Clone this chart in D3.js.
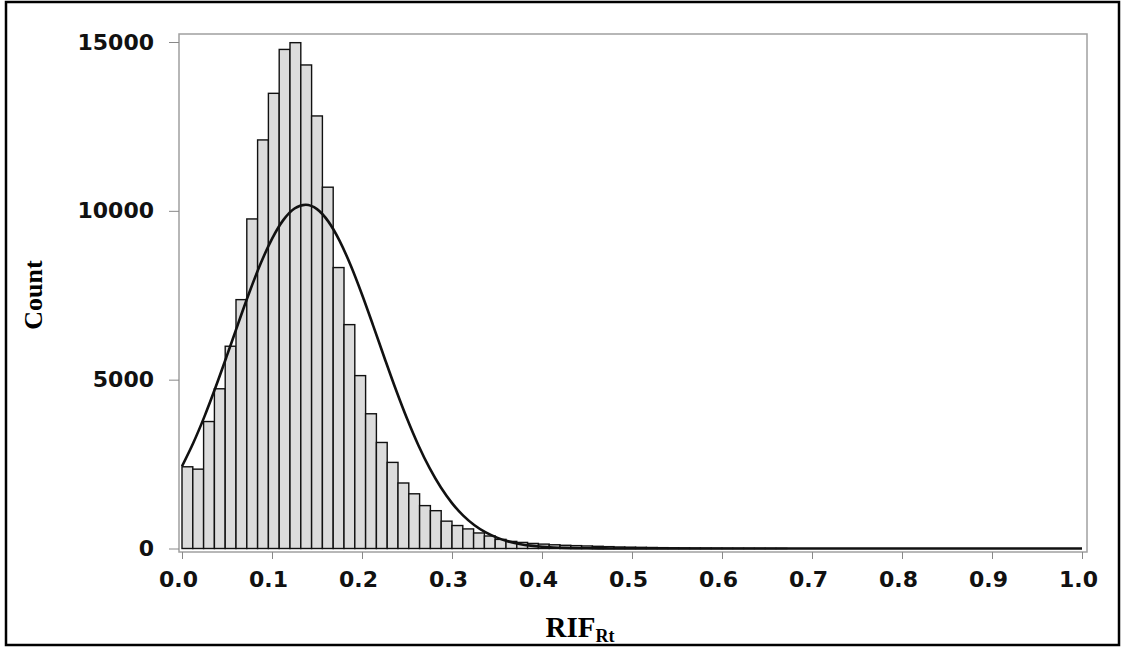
<!DOCTYPE html>
<html>
<head>
<meta charset="utf-8">
<script src="https://cdn.jsdelivr.net/npm/d3@7"></script>
<style>
  body { margin: 0; background: #fff; }
  .tick text { font-family: "DejaVu Sans", sans-serif; font-weight: bold; font-size: 22px; fill: #111; }
  .tick line { stroke: #888; }
</style>
</head>
<body>
<svg id="chart" width="1124" height="648"></svg>
<script>
// histogram bins, width 0.012 starting at 0
var binWidth = 0.012;
var counts = [2420, 2350, 3760, 4730, 5990, 7370, 9760, 12100, 13480, 14780,
  14980, 14320, 12810, 10700, 8320, 6630, 5120, 3990, 3140, 2550,
  1940, 1620, 1270, 1120, 810, 680, 580, 460, 370, 270,
  210, 180, 150, 130, 110, 95, 85, 75, 65, 55,
  45, 40, 35, 30, 25, 20, 16, 12, 10, 8,
  6, 5, 4, 3, 2, 2];

// fitted normal curve, read every 0.0125
var curveX = d3.range(0, 1.0001, 0.0125);
var curveY = [2436, 3124, 3913, 4789, 5718, 6669, 7595, 8446, 9171, 9725,
  10069, 10180, 10050, 9688, 9119, 8381, 7523, 6594, 5643, 4715,
  3847, 3065, 2385, 1812, 1344, 973, 688, 475, 321, 211,
  136, 85, 52, 31, 18, 10, 6, 3, 2, 1,
  0, 0, 0, 0, 0, 0, 0, 0, 0, 0,
  0, 0, 0, 0, 0, 0, 0, 0, 0, 0,
  0, 0, 0, 0, 0, 0, 0, 0, 0, 0,
  0, 0, 0, 0, 0, 0, 0, 0, 0, 0, 0];

var xTicks = [0, 0.1, 0.2, 0.3, 0.4, 0.5, 0.6, 0.7, 0.8, 0.9, 1.0];
var yTicks = [0, 5000, 10000, 15000];

var svg = d3.select("#chart");

var frame = {left: 179, right: 1087, top: 34, bottom: 552};

var x = d3.scaleLinear().domain([0, 1]).range([182, 1082]);
var y = d3.scaleLinear().domain([0, 15000]).range([548.5, 42]);

// outer border
svg.append("rect")
  .attr("x", 6).attr("y", 2)
  .attr("width", 1113).attr("height", 643)
  .attr("fill", "none").attr("stroke", "#000").attr("stroke-width", 2.5);

// plot frame
svg.append("rect")
  .attr("x", frame.left).attr("y", frame.top)
  .attr("width", frame.right - frame.left).attr("height", frame.bottom - frame.top)
  .attr("fill", "none").attr("stroke", "#a0a0a0").attr("stroke-width", 1.5);

// bars
svg.append("g").selectAll("rect")
  .data(counts)
  .enter().append("rect")
  .attr("x", function (d, i) { return x(i * binWidth); })
  .attr("width", function (d, i) { return x((i + 1) * binWidth) - x(i * binWidth); })
  .attr("y", function (d) { return y(d); })
  .attr("height", function (d) { return y(0) - y(d); })
  .attr("fill", "#dcdcdc")
  .attr("stroke", "#111")
  .attr("stroke-width", 1.4);

// normal curve
var line = d3.line()
  .x(function (d) { return x(d[0]); })
  .y(function (d) { return y(d[1]); })
  .curve(d3.curveMonotoneX);

svg.append("path")
  .datum(curveX.map(function (v, i) { return [v, curveY[i]]; }))
  .attr("d", line)
  .attr("fill", "none")
  .attr("stroke", "#111")
  .attr("stroke-width", 2.6);

// axes
var xAxis = svg.append("g")
  .attr("transform", "translate(0," + frame.bottom + ")")
  .call(d3.axisBottom(x).tickValues(xTicks).tickSize(7).tickPadding(12)
    .tickFormat(d3.format(".1f")));
xAxis.select(".domain").remove();
xAxis.selectAll(".tick text").attr("dx", -4);

var yAxis = svg.append("g")
  .attr("transform", "translate(" + frame.left + ",0)")
  .call(d3.axisLeft(y).tickValues(yTicks).tickSize(10).tickPadding(15)
    .tickFormat(d3.format("d")));
yAxis.select(".domain").remove();

// axis titles
svg.append("text")
  .attr("transform", "translate(42,295) rotate(-90)")
  .attr("text-anchor", "middle")
  .style("font-family", "'Liberation Serif', serif")
  .style("font-weight", "bold")
  .style("font-size", "26px")
  .text("Count");

var xt = svg.append("text")
  .attr("x", 580).attr("y", 637)
  .attr("text-anchor", "middle")
  .style("font-family", "'Liberation Serif', serif")
  .style("font-weight", "bold")
  .style("font-size", "29px");
xt.append("tspan").text("RIF");
xt.append("tspan").attr("dy", 5).style("font-size", "18px").text("Rt");
</script>
</body>
</html>
